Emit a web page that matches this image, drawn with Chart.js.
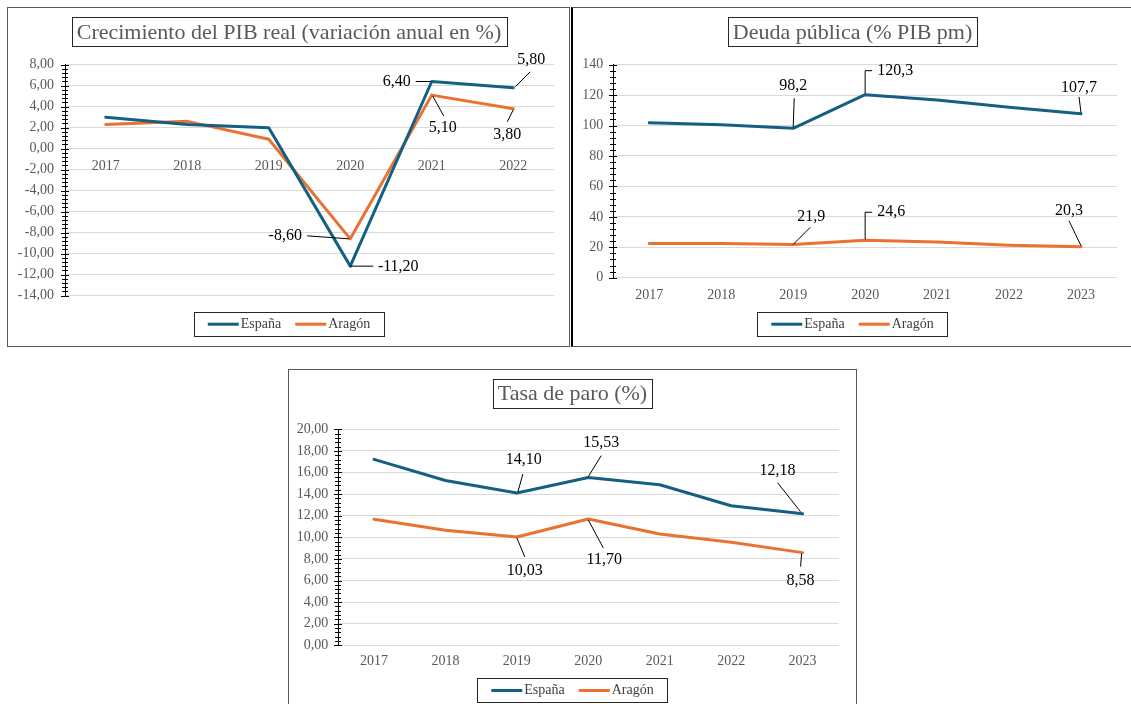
<!DOCTYPE html>
<html>
<head>
<meta charset="utf-8">
<script src="https://cdn.jsdelivr.net/npm/chart.js@4.4.1/dist/chart.umd.min.js"></script>
<style>
  body { margin: 0; background: #fff; width: 1131px; height: 704px; overflow: hidden; position: relative; }
  .panel { position: absolute; box-sizing: border-box; border: 1px solid #595959; }
  canvas { position: absolute; }
</style>
</head>
<body>
<div class="panel" style="left:7px;top:7px;width:563px;height:340px;"></div>
<div class="panel" style="left:571px;top:7px;width:570px;height:340px;border-left:2px solid #000;"></div>
<div class="panel" style="left:288px;top:369px;width:569px;height:345px;"></div>
<canvas id="pib" width="562" height="338" style="left:8px;top:8px;"></canvas>
<canvas id="deuda" width="557" height="338" style="left:574px;top:8px;"></canvas>
<canvas id="paro" width="567" height="333" style="left:289px;top:371px;"></canvas>
<script>
// datos
var yearsPib = ['2017', '2018', '2019', '2020', '2021', '2022'];
var pibEspana = [3.0, 2.3, 2.0, -11.2, 6.4, 5.8];
var pibAragon = [2.3, 2.6, 0.9, -8.6, 5.1, 3.8];

var years = ['2017', '2018', '2019', '2020', '2021', '2022', '2023'];
var deudaEspana = [101.8, 100.5, 98.2, 120.3, 116.8, 112.0, 107.7];
var deudaAragon = [22.5, 22.4, 21.9, 24.6, 23.5, 21.4, 20.3];

var paroEspana = [17.22, 15.26, 14.10, 15.53, 14.87, 12.92, 12.18];
var paroAragon = [11.67, 10.65, 10.03, 11.70, 10.30, 9.54, 8.58];

var seriesNames = ['España', 'Aragón'];
var colEspana = '#156082';
var colAragon = '#E97132';
var serif = "'Liberation Serif', 'Times New Roman', serif";

function comma(v, d) { return v.toFixed(d).replace('.', ','); }

// Excel style extras: cross ticks on the value axis, data labels with leader lines, boxed title and legend
var excelPlugin = {
    id: 'excel',
    afterDraw: function(chart, args, opts) {
        var ctx = chart.ctx;
        var ys = chart.scales.y;
        var area = chart.chartArea;
        ctx.save();

        // ticks (major + minor) crossing the axis
        ctx.strokeStyle = '#000';
        ctx.lineWidth = 1;
        var minor = opts.major / 5;
        var n = Math.round((ys.max - ys.min) / minor);
        for (var i = 0; i <= n; i++) {
            var py = Math.round(ys.getPixelForValue(ys.min + i * minor)) + 0.5;
            var len = (i % 5 === 0) ? 4 : 3;
            ctx.beginPath();
            ctx.moveTo(Math.round(area.left) - len, py);
            ctx.lineTo(Math.round(area.left) + len, py);
            ctx.stroke();
        }

        // data labels
        ctx.font = '16px ' + serif;
        ctx.fillStyle = '#000';
        ctx.textAlign = 'center';
        ctx.textBaseline = 'middle';
        opts.labels.forEach(function(l) {
            var pt = chart.getDatasetMeta(l.ds).data[l.i];
            var v = chart.data.datasets[l.ds].data[l.i];
            ctx.beginPath();
            l.line.forEach(function(p, k) {
                if (k === 0) ctx.moveTo(pt.x + p[0], pt.y + p[1]);
                else ctx.lineTo(pt.x + p[0], pt.y + p[1]);
            });
            ctx.stroke();
            ctx.fillText(comma(v, opts.decimals), pt.x + l.dx, pt.y + l.dy);
        });

        // title in a box
        var cx = chart.width / 2;
        ctx.font = '22px ' + serif;
        var tw = ctx.measureText(opts.title).width;
        ctx.fillStyle = '#fff';
        ctx.fillRect(cx - tw / 2 - 5, opts.titleTop, tw + 10, 29);
        ctx.strokeStyle = '#262626';
        ctx.strokeRect(Math.round(cx - tw / 2 - 5) + 0.5, Math.round(opts.titleTop) + 0.5, Math.round(tw + 10), 29);
        ctx.fillStyle = '#595959';
        ctx.fillText(opts.title, cx, opts.titleTop + 15.5);

        // legend in a box
        ctx.font = '14px ' + serif;
        var items = chart.data.datasets.map(function(d) {
            return { text: d.label, color: d.borderColor, w: ctx.measureText(d.label).width };
        });
        var total = 0;
        items.forEach(function(it, k) { total += 33 + it.w + (k > 0 ? 14 : 0); });
        var bx = Math.round(cx - total / 2 - 14);
        var bw = Math.round(total + 28);
        ctx.strokeStyle = '#262626';
        ctx.strokeRect(bx + 0.5, Math.round(opts.legendTop) + 0.5, bw, 24);
        var x = cx - total / 2;
        var my = opts.legendTop + 12.5;
        ctx.textAlign = 'left';
        items.forEach(function(it) {
            ctx.strokeStyle = it.color;
            ctx.lineWidth = 3;
            ctx.beginPath();
            ctx.moveTo(x, my);
            ctx.lineTo(x + 31, my);
            ctx.stroke();
            ctx.fillStyle = '#404040';
            ctx.fillText(it.text, x + 33, my);
            x += 33 + it.w + 14;
        });
        ctx.restore();
    }
};

function makeChart(id, labels, a, b, cfg) {
    var ds = function(name, data, color) {
        return {
            label: name, data: data, borderColor: color, backgroundColor: color,
            borderWidth: 3, pointRadius: 0, tension: 0,
            borderJoinStyle: 'round', borderCapStyle: 'round', clip: false
        };
    };
    return new Chart(document.getElementById(id), {
        type: 'line',
        data: {
            labels: labels,
            datasets: [ds(seriesNames[0], a, colEspana), ds(seriesNames[1], b, colAragon)]
        },
        options: {
            responsive: false,
            devicePixelRatio: 1,
            animation: false,
            layout: { padding: cfg.padding },
            plugins: {
                legend: { display: false },
                tooltip: { enabled: false },
                excel: cfg.excel
            },
            scales: {
                x: {
                    type: 'category',
                    offset: true,
                    position: cfg.xPosition,
                    grid: { display: false, drawTicks: false },
                    border: { display: false },
                    ticks: { padding: cfg.xPad, color: '#595959', font: { family: serif, size: 14 }, maxRotation: 0 },
                    afterFit: function(s) { s.height = 30; }
                },
                y: {
                    min: cfg.min, max: cfg.max,
                    grid: { color: '#D9D9D9', drawTicks: false },
                    border: { display: true, color: '#000', width: 1 },
                    ticks: {
                        stepSize: cfg.step, padding: cfg.yPad, color: '#595959',
                        font: { family: serif, size: 14 },
                        callback: function(v) { return comma(v, cfg.tickDecimals); }
                    },
                    afterFit: function(s) { s.width = cfg.yWidth; }
                }
            }
        },
        plugins: [excelPlugin]
    });
}

makeChart('pib', yearsPib, pibEspana, pibAragon, {
    padding: { left: 7, right: 16, top: 56.7, bottom: 50.5 },
    xPosition: { y: 0 }, xPad: 9, yPad: 11, yWidth: 50,
    min: -14, max: 8, step: 2, tickDecimals: 2,
    excel: {
        major: 2, decimals: 2,
        title: 'Crecimiento del PIB real (variación anual en %)',
        titleTop: 9.3, legendTop: 303.7,
        labels: [
            { ds: 0, i: 3, dx: 48, dy: 1, line: [[0, 0], [23, 0]] },
            { ds: 0, i: 4, dx: -35, dy: 0, line: [[-16, 0], [-1, 0]] },
            { ds: 0, i: 5, dx: 18, dy: -28, line: [[2, -1], [17, -16]] },
            { ds: 1, i: 3, dx: -65, dy: -3, line: [[-43, -3], [-1, 0]] },
            { ds: 1, i: 4, dx: 11, dy: 33, line: [[1, 1], [12, 21]] },
            { ds: 1, i: 5, dx: -6, dy: 26, line: [[0, 1], [-6, 13]] }
        ]
    }
});

makeChart('deuda', years, deudaEspana, deudaAragon, {
    padding: { left: 5.3, right: 14, top: 56.7, bottom: 38.3 },
    xPosition: 'bottom', xPad: 9, yPad: 10, yWidth: 34,
    min: 0, max: 140, step: 20, tickDecimals: 0,
    excel: {
        major: 20, decimals: 1,
        title: 'Deuda pública (% PIB pm)',
        titleTop: 9.3, legendTop: 303.7,
        labels: [
            { ds: 0, i: 2, dx: 0, dy: -42.5, line: [[1, -30], [0, -1]] },
            { ds: 0, i: 3, dx: 30, dy: -24, line: [[0, -1], [0, -24], [7, -24]] },
            { ds: 0, i: 6, dx: -2, dy: -26.5, line: [[-2, -17], [0, -1]] },
            { ds: 1, i: 2, dx: 18, dy: -28, line: [[0, 0], [17, -17]] },
            { ds: 1, i: 3, dx: 26, dy: -28, line: [[0, -1], [0, -28], [7, -28]] },
            { ds: 1, i: 6, dx: -12, dy: -36, line: [[-12, -26], [0, -1]] }
        ]
    }
});

makeChart('paro', years, paroEspana, paroAragon, {
    padding: { left: 5.3, right: 17.7, top: 58.3, bottom: 28.7 },
    xPosition: 'bottom', xPad: 8, yPad: 10, yWidth: 44,
    min: 0, max: 20, step: 2, tickDecimals: 2,
    excel: {
        major: 2, decimals: 2,
        title: 'Tasa de paro (%)',
        titleTop: 8, legendTop: 307,
        labels: [
            { ds: 0, i: 2, dx: 7, dy: -33, line: [[6, -19], [1, -1]] },
            { ds: 0, i: 3, dx: 13, dy: -35, line: [[13, -22], [0, -1]] },
            { ds: 0, i: 6, dx: -25, dy: -43, line: [[-25, -31], [-2, -2]] },
            { ds: 1, i: 2, dx: 8, dy: 34, line: [[0, 1], [8, 20]] },
            { ds: 1, i: 3, dx: 16, dy: 41, line: [[0, 1], [15, 29]] },
            { ds: 1, i: 6, dx: -2, dy: 28, line: [[-1, 1], [-2, 14]] }
        ]
    }
});
</script>
</body>
</html>
